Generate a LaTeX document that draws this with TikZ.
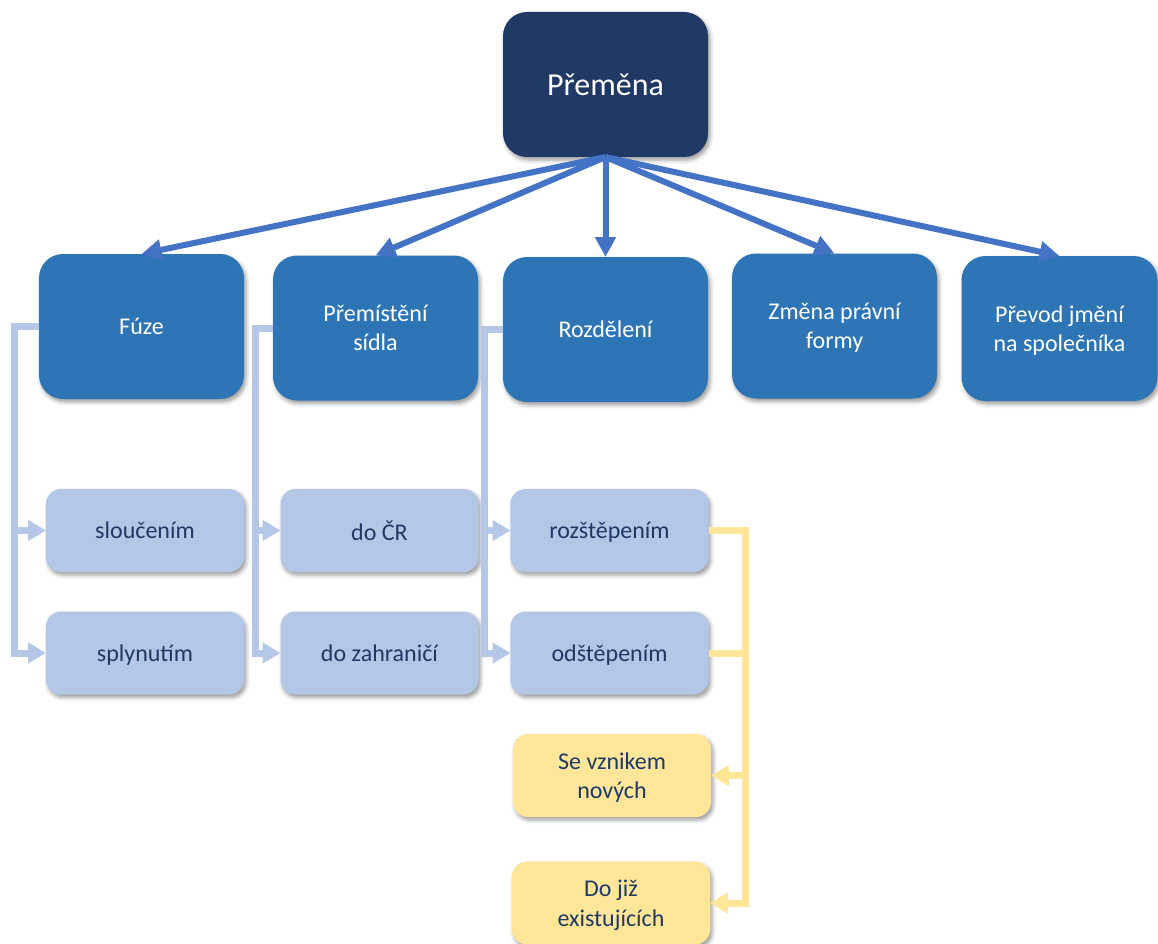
\documentclass[tikz,border=0pt]{standalone}
\usepackage{fontspec}
\setmainfont{Carlito}
\usetikzlibrary{arrows.meta,shadows.blur}
\definecolor{topColor}{HTML}{203864}
\definecolor{formColor}{HTML}{2E75B6}
\definecolor{subColor}{HTML}{B4C7E7}
\definecolor{splitColor}{HTML}{FFE699}
\definecolor{arrowColor}{HTML}{4472C4}
\tikzstyle{diagram} = [x = 1pt, y = -1pt]
\tikzstyle{boxShadow} = [blur shadow={shadow xshift=2pt, shadow yshift=-3pt, shadow blur radius=4pt}]
\tikzstyle{topBox} = [fill=topColor, text=white, rounded corners=24pt, minimum width=205pt, minimum height=145pt, outer sep=0pt, text depth=-8pt, font=\fontsize{32}{38}\selectfont, boxShadow]
\tikzstyle{formBox} = [fill=formColor, text=white, rounded corners=24pt, minimum width=205pt, minimum height=145pt, outer sep=0pt, align=center, text depth=-7pt, font=\fontsize{24}{29.5}\selectfont, boxShadow]
\tikzstyle{subBox} = [fill=subColor, text=topColor, rounded corners=15pt, minimum width=198pt, minimum height=83pt, outer sep=0pt, align=center, text depth=-7pt, font=\fontsize{24}{29.5}\selectfont, boxShadow]
\tikzstyle{splitBox} = [subBox, fill=splitColor]
\tikzstyle{mainLink} = [color=arrowColor, line width=6pt, -{Triangle[width=20pt, length=20pt]}]
\tikzstyle{subLink} = [color=subColor, line width=7pt, -{Triangle[width=20pt, length=18pt]}]
\tikzstyle{splitLink} = [subLink, color=splitColor]
\newcommand{\branchLinks}[4]{
  \draw [subLink] (#1.west) -- ++(#4,0) |- (#2.west);
  \draw [subLink] (#1.west) -- ++(#4,0) |- (#3.west);
}
\begin{document}
\begin{tikzpicture}[diagram]
\useasboundingbox (0,0) rectangle (1158,944);
% top level
\node [topBox] (premena) at (605.5,84.5) {Přeměna};
% forms of the change
\node [formBox] (fuze) at (141.5,326.5) {Fúze};
\node [formBox] (sidlo) at (375.5,328) {Přemístění\\sídla};
\node [formBox] (rozdeleni) at (605.5,329.5) {Rozdělení};
\node [formBox] (zmena) at (834.5,326) {Změna právní\\formy};
\node [formBox, minimum width=196pt] (prevod) at (1059.5,328.5) {Převod jmění\\na společníka};
\foreach \target in {fuze,sidlo,rozdeleni,zmena,prevod}
  \draw [mainLink] (premena.south) -- (\target.north);
% sub forms
\node [subBox] (slouceni) at (145,530.5) {sloučením};
\node [subBox] (splynuti) at (145,653) {splynutím};
\node [subBox] (doCR) at (379.5,530.5) {do ČR};
\node [subBox] (zahranici) at (379.5,653) {do zahraničí};
\node [subBox] (rozstepeni) at (609.5,530.5) {rozštěpením};
\node [subBox] (odstepeni) at (609.5,653) {odštěpením};
\branchLinks{fuze}{slouceni}{splynuti}{-25}
\branchLinks{sidlo}{doCR}{zahranici}{-18}
\branchLinks{rozdeleni}{rozstepeni}{odstepeni}{-19}
% kinds of the split
\node [splitBox] (vznik) at (612,775.5) {Se vznikem\\nových};
\node [splitBox] (existujici) at (611,903) {Do již\\existujících};
\draw [splitLink] (rozstepeni.east) -- ++(37,0) |- (vznik.east);
\draw [splitLink] (odstepeni.east) -- ++(37,0) |- (existujici.east);
\end{tikzpicture}
\end{document}
